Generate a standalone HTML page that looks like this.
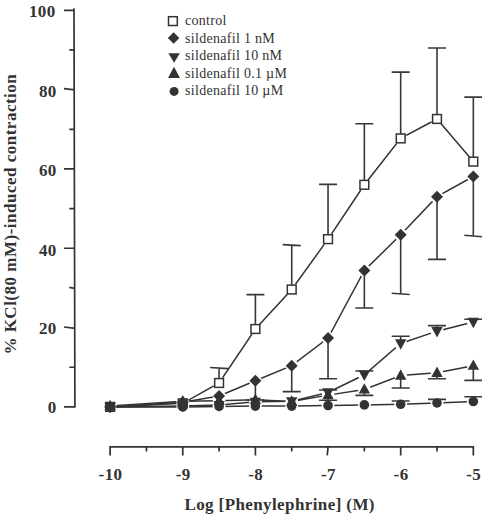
<!DOCTYPE html>
<html><head><meta charset="utf-8"><style>
html,body{margin:0;padding:0;background:#fff;}
body{width:482px;height:514px;overflow:hidden;position:relative;}
svg{position:absolute;left:0;top:0;}
.t{font-family:"Liberation Serif",serif;fill:#333;}
.b{font-weight:bold;font-size:17px;letter-spacing:0.4px;}
.l{font-size:14px;letter-spacing:0.3px;}
</style></head><body>
<svg width="482" height="514" viewBox="0 0 482 514">
<defs>
<mask id="m_cir" maskUnits="userSpaceOnUse" x="0" y="0" width="482" height="514"><rect width="482" height="514" fill="#fff"/><g fill="#000"><circle cx="110.12" cy="406.9" r="6.4" /><circle cx="182.76" cy="406.9" r="6.4" /><circle cx="219.08" cy="406.38" r="6.4" /><circle cx="255.4" cy="406.11" r="6.4" /><circle cx="291.72" cy="406.11" r="6.4" /><circle cx="328.04" cy="405.51" r="6.4" /><circle cx="364.36" cy="404.92" r="6.4" /><circle cx="400.68" cy="404.28" r="6.4" /><circle cx="437" cy="402.93" r="6.4" /><circle cx="473.32" cy="401.51" r="6.4" /></g></mask>
<mask id="m_tri" maskUnits="userSpaceOnUse" x="0" y="0" width="482" height="514"><rect width="482" height="514" fill="#fff"/><g fill="#000"><circle cx="110.12" cy="406.11" r="6.4" /><circle cx="182.76" cy="401.23" r="6.4" /><circle cx="219.08" cy="400.75" r="6.4" /><circle cx="255.4" cy="399.76" r="6.4" /><circle cx="291.72" cy="401.51" r="6.4" /><circle cx="328.04" cy="395.12" r="6.4" /><circle cx="364.36" cy="389.45" r="6.4" /><circle cx="400.68" cy="375.57" r="6.4" /><circle cx="437" cy="372.79" r="6.4" /><circle cx="473.32" cy="365.65" r="6.4" /></g></mask>
<mask id="m_inv" maskUnits="userSpaceOnUse" x="0" y="0" width="482" height="514"><rect width="482" height="514" fill="#fff"/><g fill="#000"><circle cx="110.12" cy="406.9" r="6.4" /><circle cx="182.76" cy="406.11" r="6.4" /><circle cx="219.08" cy="405.12" r="6.4" /><circle cx="255.4" cy="401.82" r="6.4" /><circle cx="291.72" cy="401.35" r="6.4" /><circle cx="328.04" cy="392.5" r="6.4" /><circle cx="364.36" cy="374.78" r="6.4" /><circle cx="400.68" cy="343.44" r="6.4" /><circle cx="437" cy="331.15" r="6.4" /><circle cx="473.32" cy="322.03" r="6.4" /></g></mask>
<mask id="m_dia" maskUnits="userSpaceOnUse" x="0" y="0" width="482" height="514"><rect width="482" height="514" fill="#fff"/><g fill="#000"><circle cx="110.12" cy="406.9" r="6.4" /><circle cx="182.76" cy="402.14" r="6.4" /><circle cx="219.08" cy="395.99" r="6.4" /><circle cx="255.4" cy="380.72" r="6.4" /><circle cx="291.72" cy="365.65" r="6.4" /><circle cx="328.04" cy="338.09" r="6.4" /><circle cx="364.36" cy="270.47" r="6.4" /><circle cx="400.68" cy="234.78" r="6.4" /><circle cx="437" cy="196.7" r="6.4" /><circle cx="473.32" cy="176.48" r="6.4" /></g></mask>
<mask id="m_sq" maskUnits="userSpaceOnUse" x="0" y="0" width="482" height="514"><rect width="482" height="514" fill="#fff"/><g fill="#000"><circle cx="110.12" cy="406.9" r="6.4" /><circle cx="182.76" cy="403.33" r="6.4" /><circle cx="219.08" cy="382.99" r="6.4" /><circle cx="255.4" cy="329.01" r="6.4" /><circle cx="291.72" cy="289.51" r="6.4" /><circle cx="328.04" cy="239.14" r="6.4" /><circle cx="364.36" cy="184.8" r="6.4" /><circle cx="400.68" cy="138.4" r="6.4" /><circle cx="437" cy="118.97" r="6.4" /><circle cx="473.32" cy="161.6" r="6.4" /></g></mask>
</defs>
<g fill="none" stroke-linecap="butt">
<path d="M74 8.3L74.9 407.7M64 406.9H75.3M69.3 367.24H75.21M64 326.98L75.12 328.38M69.3 287.42L75.03 288.52M64 248.26H74.94M69.3 208.6H74.85M64 168.94H74.76M69.3 129.28H74.67M64 88.72L74.58 89.82M69.3 49.96H74.49M64 10.3H74.4M110.12 455.4V446.9H473.32V455.4M110.12 446.9V455.4M146.44 446.9V451.5M182.76 446.9V455.4M219.08 446.9V451.5M255.4 446.9V455.4M291.72 446.9V451.5M328.04 446.9L327.24 455.4M364.36 446.9V451.5M400.68 446.9V455.4M437 446.9V451.5M473.32 446.9V455.4" stroke="#333" stroke-width="1.7" />
<path d="M400.68 404.28V400.95M391.68 400.95L409.68 400.95M437 402.93V399.36M428 399.36L446 399.36M473.32 401.51V396.79M464.32 396.79L482.32 396.79M328.04 395.12V400.2M319.04 400.2L337.04 400.2M364.36 389.45V395.4M355.36 395.4L373.36 395.4M400.68 375.57V387.98M391.68 387.98L409.68 387.98M437 372.79V378.74M428 378.74L446 378.74M473.32 365.65V380.33M464.32 380.33L482.32 380.33M328.04 392.5V390M319.04 390L337.04 390M364.36 374.78V371.01M355.36 371.01L373.36 371.01M400.68 343.44V336.31M391.68 336.31L409.68 336.31M437 331.15V325.6M428 325.6L446 325.6M473.32 322.03V319.25M464.32 319.25L482.32 319.25M255.4 380.72V399.96M246.4 399.96L264.4 399.96M291.72 365.65V391.63M282.72 391.63L300.72 391.63M328.04 338.09V378.74M319.04 378.74L337.04 378.74M364.36 270.47V307.95M355.36 307.95L373.36 307.95M400.68 234.78V293.87M391.68 293.27L409.68 294.47M437 196.7V259.36M428 259.36L446 259.36M473.32 176.48V235.97M464.32 235.22L482.32 236.72M219.08 382.99V368.03M210.08 367.43L228.08 368.63M255.4 329.01V294.66M246.4 294.66L264.4 294.66M291.72 289.51V245.09M282.72 244.59L300.72 245.59M328.04 239.14V184.41M319.04 184.41L337.04 184.41M364.36 184.8V123.73M355.36 123.73L373.36 123.73M400.68 138.4V72.17M391.68 72.17L409.68 72.17M437 118.97V47.98M428 47.98L446 47.98M473.32 161.6V97.16M464.32 97.16L482.32 97.16" stroke="#383838" stroke-width="1.6" />
<path d="M110.12 406.9 182.76 406.9 219.08 406.38 255.4 406.11 291.72 406.11 328.04 405.51 364.36 404.92 400.68 404.28 437 402.93 473.32 401.51" stroke="#333" stroke-width="1.5" mask="url(#m_cir)" />
<path d="M110.12 406.11 182.76 401.23 219.08 400.75 255.4 399.76 291.72 401.51 328.04 395.12 364.36 389.45 400.68 375.57 437 372.79 473.32 365.65" stroke="#333" stroke-width="1.5" mask="url(#m_tri)" />
<path d="M110.12 406.9 182.76 406.11 219.08 405.12 255.4 401.82 291.72 401.35 328.04 392.5 364.36 374.78 400.68 343.44 437 331.15 473.32 322.03" stroke="#333" stroke-width="1.5" mask="url(#m_inv)" />
<path d="M110.12 406.9 182.76 402.14 219.08 395.99 255.4 380.72 291.72 365.65 328.04 338.09 364.36 270.47 400.68 234.78 437 196.7 473.32 176.48" stroke="#333" stroke-width="1.5" mask="url(#m_dia)" />
<path d="M110.12 406.9 182.76 403.33 219.08 382.99 255.4 329.01 291.72 289.51 328.04 239.14 364.36 184.8 400.68 138.4 437 118.97 473.32 161.6" stroke="#333" stroke-width="1.5" mask="url(#m_sq)" />
<rect x="105.72" y="402.5" width="8.8" height="8.8" fill="#fff" stroke="#333" stroke-width="1.5" />
<rect x="178.36" y="398.93" width="8.8" height="8.8" fill="#fff" stroke="#333" stroke-width="1.5" />
<rect x="214.68" y="378.59" width="8.8" height="8.8" fill="#fff" stroke="#333" stroke-width="1.5" />
<rect x="251" y="324.61" width="8.8" height="8.8" fill="#fff" stroke="#333" stroke-width="1.5" />
<rect x="287.32" y="285.11" width="8.8" height="8.8" fill="#fff" stroke="#333" stroke-width="1.5" />
<rect x="323.64" y="234.74" width="8.8" height="8.8" fill="#fff" stroke="#333" stroke-width="1.5" />
<rect x="359.96" y="180.4" width="8.8" height="8.8" fill="#fff" stroke="#333" stroke-width="1.5" />
<rect x="396.28" y="134" width="8.8" height="8.8" fill="#fff" stroke="#333" stroke-width="1.5" />
<rect x="432.6" y="114.57" width="8.8" height="8.8" fill="#fff" stroke="#333" stroke-width="1.5" />
<rect x="468.92" y="157.2" width="8.8" height="8.8" fill="#fff" stroke="#333" stroke-width="1.5" />
<circle fill="#333" cx="110.12" cy="406.9" r="4.8" />
<circle fill="#333" cx="182.76" cy="406.9" r="4.8" />
<circle fill="#333" cx="219.08" cy="406.38" r="4.8" />
<circle fill="#333" cx="255.4" cy="406.11" r="4.8" />
<circle fill="#333" cx="291.72" cy="406.11" r="4.8" />
<circle fill="#333" cx="328.04" cy="405.51" r="4.8" />
<circle fill="#333" cx="364.36" cy="404.92" r="4.8" />
<circle fill="#333" cx="400.68" cy="404.28" r="4.8" />
<circle fill="#333" cx="437" cy="402.93" r="4.8" />
<circle fill="#333" cx="473.32" cy="401.51" r="4.8" />
<path fill="#333" d="M110.12 399.87L115.82 410.27H104.42Z" />
<path fill="#333" d="M182.76 394.99L188.46 405.39H177.06Z" />
<path fill="#333" d="M219.08 394.51L224.78 404.91H213.38Z" />
<path fill="#333" d="M255.4 393.52L261.1 403.92H249.7Z" />
<path fill="#333" d="M291.72 395.27L297.42 405.67H286.02Z" />
<path fill="#333" d="M328.04 388.88L333.74 399.28H322.34Z" />
<path fill="#333" d="M364.36 383.21L370.06 393.61H358.66Z" />
<path fill="#333" d="M400.68 369.33L406.38 379.73H394.98Z" />
<path fill="#333" d="M437 366.55L442.7 376.95H431.3Z" />
<path fill="#333" d="M473.32 359.41L479.02 369.81H467.62Z" />
<path fill="#333" d="M110.12 413.14L115.82 402.74H104.42Z" />
<path fill="#333" d="M182.76 412.35L188.46 401.95H177.06Z" />
<path fill="#333" d="M219.08 411.36L224.78 400.96H213.38Z" />
<path fill="#333" d="M255.4 408.06L261.1 397.66H249.7Z" />
<path fill="#333" d="M291.72 407.59L297.42 397.19H286.02Z" />
<path fill="#333" d="M328.04 398.74L333.74 388.34H322.34Z" />
<path fill="#333" d="M364.36 381.02L370.06 370.62H358.66Z" />
<path fill="#333" d="M400.68 349.68L406.38 339.28H394.98Z" />
<path fill="#333" d="M437 337.39L442.7 326.99H431.3Z" />
<path fill="#333" d="M473.32 328.27L479.02 317.87H467.62Z" />
<path fill="#333" d="M110.12 400.9L116.12 406.9L110.12 412.9L104.12 406.9Z" />
<path fill="#333" d="M182.76 396.14L188.76 402.14L182.76 408.14L176.76 402.14Z" />
<path fill="#333" d="M219.08 389.99L225.08 395.99L219.08 401.99L213.08 395.99Z" />
<path fill="#333" d="M255.4 374.72L261.4 380.72L255.4 386.72L249.4 380.72Z" />
<path fill="#333" d="M291.72 359.65L297.72 365.65L291.72 371.65L285.72 365.65Z" />
<path fill="#333" d="M328.04 332.09L334.04 338.09L328.04 344.09L322.04 338.09Z" />
<path fill="#333" d="M364.36 264.47L370.36 270.47L364.36 276.47L358.36 270.47Z" />
<path fill="#333" d="M400.68 228.78L406.68 234.78L400.68 240.78L394.68 234.78Z" />
<path fill="#333" d="M437 190.7L443 196.7L437 202.7L431 196.7Z" />
<path fill="#333" d="M473.32 170.48L479.32 176.48L473.32 182.48L467.32 176.48Z" />
<rect x="168.5" y="16.7" width="8.8" height="8.8" fill="#fff" stroke="#333" stroke-width="1.5" />
<path fill="#333" d="M173.6 32.2L179.4 38L173.6 43.8L167.8 38Z" />
<path fill="#333" d="M174.1 62.7L179.8 53.2H168.4Z" />
<path fill="#333" d="M174 66.82L180 78.12H168Z" />
<circle fill="#333" cx="174.1" cy="91.4" r="4.5" />
</g>
<g class="t b">
<text x="55.6" y="16.6" text-anchor="end">100</text>
<text x="56.7" y="96.62" text-anchor="end">80</text>
<text x="56.7" y="175.74" text-anchor="end">60</text>
<text x="56.7" y="255.76" text-anchor="end">40</text>
<text x="56.7" y="333.58" text-anchor="end">20</text>
<text x="56.7" y="412.9" text-anchor="end">0</text>
<text x="110.52" y="480" text-anchor="middle">-10</text>
<text x="183.16" y="480" text-anchor="middle">-9</text>
<text x="255.8" y="480" text-anchor="middle">-8</text>
<text x="328.44" y="480" text-anchor="middle">-7</text>
<text x="401.08" y="480" text-anchor="middle">-6</text>
<text x="473.72" y="480" text-anchor="middle">-5</text>
<text x="184.4" y="509.5">Log [Phenylephrine] (M)</text>
<text transform="translate(16.4 354.6) rotate(-90)" style="letter-spacing:0.5px">% KCl(80 mM)-induced contraction</text>
</g>
<g class="t l">
<text x="185" y="24.9">control</text>
<text x="185" y="42.8">sildenafil 1 nM</text>
<text x="185" y="60.3">sildenafil 10 nM</text>
<text x="185" y="77.7">sildenafil 0.1 &#181;M</text>
<text x="185" y="95.1">sildenafil 10 &#181;M</text>
</g>
</svg>
</body></html>
